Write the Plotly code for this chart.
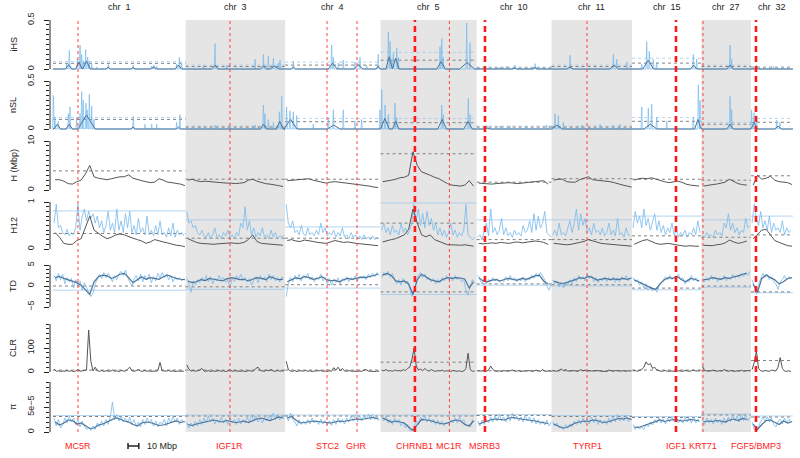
import numpy as np
import plotly.graph_objects as go

# ---------------- data ----------------
chroms = ["1", "3", "4", "5", "10", "11", "15", "27", "32"]
chrom_len = [122.7, 92.0, 88.3, 88.9, 69.3, 74.4, 64.2, 45.9, 38.8]
shaded = ["3", "5", "11", "27"]

genes = ["MC5R", "IGF1R", "STC2", "GHR", "CHRNB1", "MC1R", "MSRB3", "TYRP1", "IGF1", "KRT71", "FGF5/BMP3"]
gene_chrom = ["1", "3", "4", "4", "5", "5", "10", "11", "15", "27", "32"]
gene_pos = [23.1, 41.0, 38.8, 66.5, 31.8, 63.7, 7.7, 32.8, 40.7, 1.5, 4.6]
gene_strong = [False, False, False, False, True, False, True, False, True, False, True]

SCALEBAR_MBP = 10

# iHS: (chrom, pos Mb, value)
ihs_spikes = [
    ("1", 12.7, 0.05), ("1", 15.1, 0.19), ("1", 22.5, 0.10), ("1", 25.0, 0.245), ("1", 26.5, 0.15),
    ("1", 28.0, 0.08), ("1", 30.2, 0.20), ("1", 32.1, 0.12), ("1", 33.6, 0.08), ("1", 35.8, 0.05),
    ("1", 40.4, 0.02), ("1", 51.2, 0.045), ("1", 74.3, 0.04), ("1", 91.3, 0.03), ("1", 93.4, 0.04),
    ("1", 95.9, 0.03), ("1", 114.4, 0.05), ("1", 116.9, 0.12), ("1", 119.0, 0.06),
    ("3", 16.4, 0.04), ("3", 27.2, 0.26), ("3", 38.0, 0.04), ("3", 64.2, 0.10), ("3", 71.9, 0.15),
    ("3", 76.5, 0.13), ("3", 81.2, 0.11), ("3", 85.8, 0.06), ("3", 87.3, 0.09),
    ("4", 7.6, 0.08), ("4", 43.1, 0.245), ("4", 44.6, 0.12), ("4", 49.2, 0.06), ("4", 53.8, 0.09),
    ("4", 64.6, 0.07), ("4", 69.3, 0.12), ("4", 75.4, 0.04), ("4", 86.2, 0.15),
    ("5", 7.2, 0.38), ("5", 8.8, 0.28), ("5", 10.3, 0.10), ("5", 11.8, 0.16), ("5", 15.0, 0.21),
    ("5", 16.5, 0.12), ("5", 55.0, 0.23), ("5", 56.6, 0.31), ("5", 58.0, 0.12), ("5", 79.7, 0.47),
    ("5", 82.8, 0.27),
    ("10", 21.6, 0.02), ("10", 27.8, 0.03), ("10", 35.5, 0.04), ("10", 54.0, 0.055), ("10", 61.7, 0.02),
    ("11", 17.1, 0.14), ("11", 57.2, 0.15), ("11", 60.3, 0.10), ("11", 69.6, 0.07),
    ("15", 9.0, 0.05), ("15", 13.6, 0.28), ("15", 16.0, 0.18), ("15", 19.7, 0.10), ("15", 22.8, 0.07),
    ("15", 56.7, 0.15), ("15", 59.8, 0.10),
    ("27", 26.5, 0.245), ("27", 28.0, 0.10),
    ("32", 5.2, 0.04), ("32", 20.7, 0.03),
]
# smoothed iHS: (chrom, pos, value, half-width Mb)
ihs_smooth = [
    ("1", 14.5, 0.045, 3), ("1", 24.0, 0.07, 3), ("1", 31.0, 0.08, 3.5), ("1", 51.0, 0.02, 2),
    ("1", 74.0, 0.015, 2), ("1", 93.0, 0.02, 3), ("1", 116.0, 0.04, 3),
    ("3", 27.0, 0.04, 3), ("3", 72.0, 0.03, 3), ("3", 82.0, 0.03, 4),
    ("4", 7.6, 0.02, 2), ("4", 44.0, 0.06, 4), ("4", 68.0, 0.04, 4), ("4", 86.0, 0.03, 2),
    ("5", 8.0, 0.125, 3), ("5", 14.0, 0.11, 3), ("5", 56.0, 0.075, 4), ("5", 80.0, 0.065, 7),
    ("10", 35.0, 0.01, 2), ("10", 54.0, 0.015, 2),
    ("11", 17.0, 0.02, 3), ("11", 58.0, 0.04, 4),
    ("15", 15.0, 0.09, 5), ("15", 57.0, 0.04, 3),
    ("27", 26.5, 0.04, 3),
    ("32", 5.0, 0.015, 2),
]
ihs_thr_gray = [0.058, 0.025, 0.04, 0.09, 0.01, 0.025, 0.06, 0.025, 0.01]
ihs_thr_blue = [0.075, 0.04, 0.07, 0.17, 0.02, 0.04, 0.11, 0.04, 0.025]

nsl_spikes = [
    ("1", 0.3, 0.35), ("1", 1.8, 0.12), ("1", 4.9, 0.08), ("1", 14.2, 0.16), ("1", 15.7, 0.23),
    ("1", 21.9, 0.12), ("1", 25.0, 0.16), ("1", 26.5, 0.39), ("1", 28.0, 0.30), ("1", 30.5, 0.27),
    ("1", 31.7, 0.20), ("1", 33.6, 0.36), ("1", 35.8, 0.24), ("1", 37.9, 0.10), ("1", 74.3, 0.13),
    ("1", 85.1, 0.05), ("1", 91.3, 0.05), ("1", 95.9, 0.05), ("1", 114.4, 0.07), ("1", 117.4, 0.15),
    ("3", 13.3, 0.03), ("3", 27.2, 0.04), ("3", 41.0, 0.03), ("3", 64.2, 0.04), ("3", 71.9, 0.25),
    ("3", 73.4, 0.16), ("3", 76.5, 0.10), ("3", 81.2, 0.07), ("3", 86.8, 0.18), ("3", 88.9, 0.34),
    ("4", 1.4, 0.23), ("4", 4.5, 0.19), ("4", 7.6, 0.18), ("4", 10.7, 0.14), ("4", 26.1, 0.05),
    ("4", 40.0, 0.12), ("4", 44.6, 0.20), ("4", 53.8, 0.20), ("4", 64.6, 0.08), ("4", 70.8, 0.10),
    ("4", 87.7, 0.20),
    ("5", 1.1, 0.41), ("5", 4.2, 0.25), ("5", 7.2, 0.15), ("5", 13.4, 0.27), ("5", 15.0, 0.12),
    ("5", 56.6, 0.25), ("5", 58.1, 0.15), ("5", 81.2, 0.32), ("5", 82.8, 0.15),
    ("10", 9.3, 0.04), ("10", 21.6, 0.03), ("10", 30.9, 0.03), ("10", 46.3, 0.03), ("10", 64.8, 0.04),
    ("11", 3.2, 0.16), ("11", 6.3, 0.14), ("11", 10.9, 0.07), ("11", 27.9, 0.04), ("11", 44.9, 0.05),
    ("11", 57.2, 0.04), ("11", 63.4, 0.05),
    ("15", 9.0, 0.23), ("15", 15.1, 0.22), ("15", 18.2, 0.26), ("15", 22.8, 0.12), ("15", 32.1, 0.08),
    ("15", 56.7, 0.12), ("15", 61.4, 0.46), ("15", 63.0, 0.30),
    ("27", 26.5, 0.34), ("27", 28.0, 0.20),
    ("32", 0.6, 0.20), ("32", 2.8, 0.17), ("32", 5.2, 0.14), ("32", 23.8, 0.09), ("32", 26.8, 0.07),
]
nsl_smooth = [
    ("1", 4.0, 0.05, 3), ("1", 15.0, 0.05, 3), ("1", 31.0, 0.145, 8), ("1", 74.0, 0.02, 2), ("1", 116.0, 0.02, 2),
    ("3", 72.0, 0.05, 3), ("3", 87.0, 0.08, 3),
    ("4", 5.0, 0.10, 6), ("4", 45.0, 0.04, 6),
    ("5", 4.0, 0.11, 4), ("5", 14.0, 0.08, 3), ("5", 57.0, 0.10, 4), ("5", 81.0, 0.08, 4),
    ("10", 10.0, 0.01, 3),
    ("11", 5.0, 0.04, 5),
    ("15", 17.0, 0.05, 6), ("15", 61.0, 0.10, 3),
    ("27", 26.5, 0.05, 3),
    ("32", 3.0, 0.07, 3), ("32", 25.0, 0.03, 3),
]
nsl_thr_gray = [0.10, 0.02, 0.076, 0.066, 0.02, 0.02, 0.08, 0.05, 0.07]
nsl_thr_blue = [0.12, 0.03, 0.11, 0.11, 0.03, 0.03, 0.12, 0.07, 0.11]

# H (Mbp), 4 Mb windows
h_mbp = {
    "1": [2.1, 2.1, 1.8, 1.3, 1.2, 1.7, 2.0, 3.3, 5.0, 2.7, 2.4, 2.2, 2.1, 2.3, 2.5, 2.7, 2.7, 3.1, 2.4, 2.1,
          1.9, 1.7, 1.5, 1.6, 2.3, 2.0, 1.6, 1.5, 1.4, 1.2, 0.9],
    "3": [2.0, 2.2, 1.9, 1.7, 1.8, 1.7, 1.6, 1.6, 1.5, 1.4, 1.4, 1.3, 1.4, 1.5, 2.0, 2.2, 1.8, 1.5, 1.3, 1.2,
          1.1, 0.9, 0.7],
    "4": [1.9, 2.0, 2.1, 2.2, 2.3, 2.3, 2.0, 1.8, 1.6, 1.4, 1.6, 1.7, 1.6, 1.5, 1.3, 1.3, 1.2, 1.1, 1.0, 0.8,
          0.6, 0.5],
    "5": [1.7, 1.8, 2.0, 2.2, 2.5, 2.6, 3.0, 7.8, 5.0, 3.7, 3.4, 3.0, 2.6, 2.3, 1.8, 1.3, 1.0, 0.9, 0.8, 1.0,
          1.9, 0.8],
    "10": [1.4, 1.3, 1.3, 1.2, 1.3, 1.4, 1.5, 1.5, 1.4, 1.3, 1.4, 1.5, 1.6, 1.7, 1.8, 1.9, 1.2],
    "11": [2.0, 2.2, 2.2, 1.7, 1.6, 1.6, 2.1, 2.4, 2.7, 2.1, 2.0, 2.0, 1.9, 1.7, 1.5, 1.2, 1.0, 0.8, 0.6],
    "15": [2.0, 2.3, 2.4, 2.3, 2.5, 2.2, 1.9, 1.7, 1.5, 1.6, 1.8, 1.6, 1.2, 1.0, 0.9, 0.8],
    "27": [0.8, 1.0, 1.1, 1.2, 1.4, 1.6, 2.2, 1.8, 1.3, 1.1, 1.0],
    "32": [1.0, 3.0, 2.2, 2.4, 2.8, 2.0, 1.7, 1.6, 1.5, 1.1],
}
h_thr_gray = [3.9, 2.2, 2.2, 7.4, 1.6, 2.3, 2.2, 2.0, 2.9]

# H12, 2 Mb windows (blue) and H2/H1, 4 Mb windows (gray)
h12_blue = {
    "1": [0.55, 0.95, 0.45, 0.50, 0.35, 0.30, 0.42, 0.28, 0.35, 0.30, 0.45, 0.95, 0.40, 0.70, 0.85, 0.60,
          0.80, 0.65, 0.75, 0.55, 0.70, 0.45, 0.60, 0.35, 0.50, 0.80, 0.40, 0.55, 0.35, 0.85, 0.40, 0.60,
          0.35, 0.75, 0.45, 0.80, 0.35, 0.50, 0.30, 0.65, 0.35, 0.45, 0.30, 0.70, 0.30, 0.40, 0.28, 0.50,
          0.30, 0.60, 0.30, 0.35, 0.25, 0.45, 0.28, 0.55, 0.25, 0.40, 0.30, 0.35, 0.28],
    "3": [0.80, 0.55, 0.60, 0.45, 0.50, 0.35, 0.30, 0.40, 0.28, 0.25, 0.35, 0.22, 0.30, 0.45, 0.25, 0.30,
          0.22, 0.35, 0.28, 0.40, 0.25, 0.30, 0.22, 0.35, 0.28, 0.55, 0.45, 0.90, 0.40, 0.60, 0.30, 0.45,
          0.25, 0.35, 0.28, 0.45, 0.25, 0.30, 0.22, 0.40, 0.25, 0.35, 0.22, 0.28, 0.25, 0.30],
    "4": [0.95, 0.55, 0.45, 0.60, 0.35, 0.40, 0.30, 0.50, 0.32, 0.28, 0.45, 0.30, 0.35, 0.28, 0.40, 0.30,
          0.55, 0.35, 0.45, 0.28, 0.35, 0.30, 0.40, 0.25, 0.35, 0.28, 0.45, 0.25, 0.30, 0.22, 0.35, 0.25,
          0.30, 0.22, 0.28, 0.20, 0.30, 0.22, 0.25, 0.20, 0.28, 0.20, 0.25, 0.22],
    "5": [0.40, 0.55, 0.35, 0.45, 0.30, 0.50, 0.35, 0.40, 0.30, 0.55, 0.35, 0.45, 0.30, 0.40, 0.55, 0.95,
          0.60, 0.85, 0.50, 0.75, 0.45, 0.80, 0.50, 0.65, 0.40, 0.55, 0.30, 0.45, 0.28, 0.40, 0.25, 0.35,
          0.55, 0.30, 0.40, 0.25, 0.35, 0.28, 0.40, 0.95, 0.30, 0.25, 0.20, 0.25],
    "10": [0.25, 0.30, 0.20, 0.35, 0.55, 0.28, 0.85, 0.35, 0.45, 0.30, 0.40, 0.65, 0.30, 0.45, 0.28, 0.35,
           0.25, 0.40, 0.30, 0.35, 0.28, 0.50, 0.35, 0.40, 0.60, 0.35, 0.75, 0.40, 0.70, 0.45, 0.55, 0.80,
           0.35, 0.30, 0.25],
    "11": [0.30, 0.40, 0.28, 0.55, 0.30, 0.35, 0.28, 0.45, 0.60, 0.35, 0.55, 0.85, 0.40, 0.75, 0.50, 0.65,
           0.35, 0.45, 0.30, 0.55, 0.35, 0.40, 0.30, 0.45, 0.28, 0.35, 0.55, 0.30, 0.40, 0.28, 0.65, 0.30,
           0.35, 0.25, 0.45, 0.30, 0.28],
    "15": [0.45, 0.80, 0.55, 0.70, 0.45, 0.85, 0.50, 0.65, 0.40, 0.55, 0.75, 0.40, 0.60, 0.35, 0.50, 0.30,
           0.45, 0.35, 0.55, 0.30, 0.40, 0.25, 0.35, 0.28, 0.40, 0.25, 0.35, 0.30, 0.45, 0.30, 0.60, 0.35],
    "27": [0.30, 0.25, 0.35, 0.28, 0.30, 0.25, 0.40, 0.30, 0.35, 0.28, 0.55, 0.45, 0.75, 0.40, 0.55, 0.35,
           0.45, 0.30, 0.40, 0.35, 0.65, 0.45, 0.50],
    "32": [0.55, 0.95, 0.65, 0.50, 0.80, 0.45, 0.60, 0.40, 0.70, 0.35, 0.55, 0.40, 0.45, 0.35, 0.60, 0.30,
           0.45, 0.35, 0.40],
}
h12_gray = {
    "1": [0.35, 0.25, 0.12, 0.10, 0.10, 0.18, 0.22, 0.45, 0.70, 0.40, 0.33, 0.27, 0.22, 0.25, 0.30, 0.32,
          0.30, 0.26, 0.23, 0.20, 0.17, 0.12, 0.15, 0.20, 0.17, 0.15, 0.13, 0.10, 0.08, 0.07, 0.05],
    "3": [0.22, 0.18, 0.14, 0.12, 0.11, 0.10, 0.10, 0.11, 0.12, 0.12, 0.13, 0.12, 0.12, 0.14, 0.20, 0.30,
          0.16, 0.12, 0.11, 0.10, 0.09, 0.09, 0.08],
    "4": [0.18, 0.20, 0.17, 0.16, 0.19, 0.18, 0.16, 0.14, 0.13, 0.12, 0.15, 0.18, 0.16, 0.14, 0.15, 0.13,
          0.12, 0.11, 0.10, 0.09, 0.08, 0.07],
    "5": [0.15, 0.18, 0.20, 0.22, 0.26, 0.30, 0.42, 0.85, 0.55, 0.30, 0.26, 0.30, 0.20, 0.16, 0.12, 0.09,
          0.09, 0.08, 0.08, 0.09, 0.07, 0.06],
    "10": [0.12, 0.11, 0.12, 0.13, 0.12, 0.14, 0.13, 0.12, 0.14, 0.15, 0.13, 0.14, 0.15, 0.17, 0.16, 0.14, 0.10],
    "11": [0.12, 0.11, 0.10, 0.09, 0.10, 0.12, 0.14, 0.16, 0.20, 0.17, 0.14, 0.12, 0.11, 0.10, 0.09, 0.09,
           0.08, 0.07, 0.06],
    "15": [0.10, 0.14, 0.18, 0.20, 0.16, 0.12, 0.10, 0.11, 0.12, 0.10, 0.08, 0.07, 0.06, 0.07, 0.06, 0.06],
    "27": [0.08, 0.07, 0.07, 0.09, 0.10, 0.13, 0.19, 0.15, 0.12, 0.14, 0.17],
    "32": [0.22, 0.30, 0.40, 0.42, 0.30, 0.18, 0.14, 0.10, 0.07, 0.06],
}
h12_thr_blue = [0.81, 0.62, 0.47, 0.98, 0.62, 0.62, 0.70, 0.62, 0.70]
h12_thr_gray = [0.33, 0.23, 0.23, 0.55, 0.20, 0.20, 0.28, 0.25, 0.30]

# Tajima's D: 2 Mb (light) and 4 Mb smoothed (dark)
td_raw = {
    "1": [2.5, 1.2, 3.0, 1.5, 2.8, 0.5, 2.0, 1.0, 1.8, -0.5, 1.5, 0.2, 1.2, -1.0, 0.8, -0.5, -1.5, -2.5,
          -1.8, 0.5, 1.5, 2.8, 1.8, 3.2, 2.0, 3.0, 2.2, 1.0, 2.5, 1.5, 2.8, 3.5, 2.5, 3.8, 2.0, 1.0, 0.0,
          1.5, 2.5, 1.2, 2.8, 1.0, 2.5, 1.5, 2.8, 0.8, 2.2, 1.2, 3.0, 2.0, 3.2, 2.0, 2.8, 1.5, 2.5, 1.0,
          2.2, 1.5, 2.0, 1.2, 1.8],
    "3": [1.8, 0.5, -1.5, 1.2, 0.2, 1.5, 0.8, 2.0, 1.2, 2.5, 1.0, 2.2, 0.5, 1.8, 1.2, 2.5, 1.5, 2.0, 0.8,
          1.5, -0.5, 2.0, 1.0, 2.5, 1.5, 2.8, 1.2, 2.0, 1.0, 1.8, 0.2, 1.5, 2.2, 0.8, 2.5, 1.5, 2.2, 1.0,
          2.8, 1.5, 2.5, 1.2, 2.0, 1.0, 2.2, 1.8],
    "4": [-2.5, 0.5, 2.0, 1.0, 2.5, 1.5, 2.8, 1.2, 2.5, 1.8, 3.0, 1.5, 2.2, 1.0, 2.0, 1.5, 2.8, 1.2, 2.0,
          0.5, 1.8, 0.2, 1.5, 0.8, 2.0, 0.5, 1.8, 1.2, 2.2, 1.0, 2.0, 1.5, 2.5, 1.2, 2.2, 1.8, 2.5, 1.5,
          2.8, 2.0, 3.0, 2.2, 3.2, 2.5],
    "5": [2.0, 3.2, 2.5, 3.5, 2.0, 3.0, 1.5, 0.5, 1.5, 0.2, 1.8, 0.5, 1.2, -0.5, -2.5, -1.5, 1.0, 2.5,
          3.2, 2.0, 2.8, 1.5, 2.0, 1.0, 1.8, 0.5, 1.5, 0.8, 2.0, 1.2, 2.5, 1.5, 2.2, 1.2, 2.5, 1.5, 2.0,
          1.0, 1.5, -1.0, -2.2, 0.0, 1.5, 0.8],
    "10": [2.5, 1.5, 0.5, 1.8, 0.5, 1.5, 1.0, 2.0, 1.2, 1.8, 0.8, 1.5, 1.0, 2.2, 1.2, 2.5, 1.5, 2.0, 1.0,
           1.8, 1.2, 2.2, 1.0, 1.8, 1.5, 2.5, 1.8, 3.0, 2.2, 3.2, 2.5, 1.5, 0.0, -1.0, 0.5],
    "11": [1.5, 0.5, 1.2, -0.2, 0.8, -0.5, 1.0, 0.2, 1.5, 0.5, 2.0, 1.0, 2.5, 1.5, 2.2, 1.2, 2.8, 1.8, 2.5,
           1.0, 2.0, 0.8, 1.8, 1.2, 2.2, 1.0, 2.0, 1.2, 2.2, 0.8, 2.0, 1.0, 2.2, 1.5, 2.5, 1.2, 2.0],
    "15": [2.0, 1.0, 1.5, 0.2, 1.0, -0.5, 0.5, -1.0, 0.0, -1.2, -0.5, -1.5, 0.0, 0.8, 1.5, 2.2, 1.5, 2.5,
           1.5, 2.2, 1.8, 2.8, 1.5, 2.0, 0.5, 1.5, 1.0, 2.5, 1.2, 2.0, 1.0, 1.5],
    "27": [1.8, 1.0, 2.0, 1.2, 2.5, 1.5, 2.2, 1.0, 2.0, 1.5, 2.5, 1.2, 2.0, 1.5, 2.8, 1.8, 2.5, 2.0, 3.0,
           2.2, 3.2, 2.5, 3.5],
    "32": [1.5, -0.5, -2.0, 0.5, 2.0, 3.0, 2.0, 2.8, 1.5, 2.2, 1.0, 0.5, -0.8, 1.0, 1.5, 2.5, 1.5, 2.2, 1.8],
}
td_smooth = {
    "1": [2.0, 2.3, 1.8, 1.5, 1.2, 0.8, 0.2, -1.0, -2.0, 1.0, 2.2, 2.6, 2.4, 1.8, 2.2, 2.8, 3.0, 2.0, 0.8,
          1.5, 2.2, 1.6, 2.0, 1.8, 1.6, 2.2, 2.6, 2.2, 1.8, 1.6, 1.5],
    "3": [1.2, 0.8, 1.0, 1.5, 1.3, 1.8, 1.6, 1.4, 1.2, 1.7, 2.0, 1.8, 1.5, 1.6, 1.2, 1.6, 2.0, 1.8, 1.5,
          2.2, 1.8, 1.5, 1.6],
    "4": [1.0, 1.5, 2.0, 1.7, 2.3, 2.0, 1.6, 1.8, 2.2, 1.6, 1.2, 1.4, 1.0, 1.5, 1.8, 1.6, 1.9, 2.1, 2.0,
          2.2, 2.5, 2.8],
    "5": [2.6, 3.0, 2.5, 1.2, 1.0, 1.2, 0.5, -2.0, 1.5, 2.8, 2.2, 1.5, 1.2, 1.0, 1.6, 2.0, 1.8, 2.0, 1.9,
          1.6, -0.5, 1.0],
    "10": [2.0, 1.2, 1.0, 1.4, 1.5, 1.2, 1.6, 1.8, 1.5, 1.4, 1.8, 1.6, 2.0, 2.4, 2.6, 1.2, 0.5],
    "11": [1.2, 0.8, 0.6, 0.8, 1.2, 1.5, 2.0, 1.8, 2.3, 2.0, 1.4, 1.6, 1.8, 1.5, 1.7, 1.5, 1.8, 1.6, 1.9],
    "15": [1.5, 1.0, 0.5, 0.0, -0.5, -0.8, 0.5, 1.5, 2.0, 1.8, 2.2, 1.5, 1.0, 1.8, 1.6, 1.2],
    "27": [1.5, 1.6, 2.0, 1.8, 1.6, 2.0, 1.8, 2.2, 2.4, 2.8, 3.0],
    "32": [0.5, -1.5, 1.8, 2.6, 2.0, 1.5, 0.5, 1.0, 1.8, 2.0],
}
td_thr_gray = [0.0, -0.2, 0.3, -1.4, 0.5, 0.3, -0.5, 0.0, -1.4]
td_thr_blue = [-1.0, -0.8, -0.5, -2.0, 0.2, 0.0, -0.9, -0.3, -1.6]

# CLR, 2 Mb
clr = {
    "1": [12, 3, 5, 2, 4, 3, 6, 3, 5, 2, 4, 10, 3, 5, 4, 8, 175, 45, 4, 20, 5, 3, 6, 2, 5, 4, 3, 8, 3, 5,
          2, 6, 4, 3, 12, 20, 5, 3, 6, 10, 4, 3, 6, 3, 5, 2, 4, 3, 6, 40, 5, 3, 4, 6, 3, 5, 2, 4, 3, 5, 3],
    "3": [30, 12, 4, 6, 3, 5, 8, 15, 4, 3, 6, 2, 5, 3, 4, 6, 3, 5, 2, 4, 10, 3, 5, 4, 6, 3, 5, 2, 4, 6,
          3, 5, 15, 20, 6, 4, 3, 8, 5, 10, 4, 3, 6, 4, 3, 5],
    "4": [45, 10, 4, 3, 6, 2, 5, 3, 4, 6, 3, 5, 2, 4, 3, 5, 6, 3, 4, 2, 5, 3, 18, 8, 20, 5, 15, 4, 3, 6,
          4, 3, 5, 2, 4, 3, 8, 10, 4, 3, 5, 2, 4, 3],
    "5": [8, 5, 10, 4, 6, 3, 8, 5, 6, 4, 10, 6, 15, 20, 50, 100, 25, 8, 12, 5, 15, 6, 4, 10, 5, 3, 6, 4,
          8, 3, 5, 4, 3, 6, 4, 3, 5, 2, 4, 15, 78, 10, 3, 4],
    "10": [5, 3, 4, 6, 3, 8, 25, 10, 4, 3, 5, 2, 6, 4, 3, 5, 8, 4, 3, 6, 2, 4, 3, 5, 6, 3, 4, 8, 5, 3,
           10, 4, 3, 5, 2],
    "11": [6, 4, 3, 8, 12, 6, 10, 4, 3, 5, 6, 3, 4, 10, 5, 8, 3, 6, 4, 5, 3, 6, 4, 3, 5, 2, 8, 4, 3, 6,
           5, 3, 4, 6, 3, 5, 4],
    "15": [4, 6, 3, 8, 10, 20, 42, 30, 35, 15, 20, 8, 5, 3, 4, 6, 3, 5, 4, 3, 2, 5, 4, 3, 6, 4, 3, 5, 8,
           4, 3, 5],
    "27": [25, 6, 4, 3, 5, 8, 4, 3, 6, 4, 10, 5, 3, 6, 4, 3, 5, 4, 8, 3, 5, 4, 6],
    "32": [10, 40, 88, 15, 5, 3, 6, 4, 3, 8, 5, 4, 20, 60, 15, 4, 3, 5, 2],
}
clr_thr_gray = [8, 8, 8, 41, 5, 5, 8, 5, 48]

# nucleotide diversity pi, in units of 1e-5
PI_UNIT = 1e-5
pi_raw = {
    "1": [2.8, 1.2, 2.5, 0.8, 1.5, 2.8, 1.8, 3.2, 2.0, 2.8, 1.5, 2.5, 1.0, 2.2, 1.2, 0.5, 1.0, 0.3, 1.2,
          0.5, 1.8, 1.0, 2.2, 1.2, 2.5, 1.5, 3.0, 6.0, 2.5, 3.5, 2.2, 3.2, 2.0, 2.8, 1.8, 3.0, 1.5, 2.5,
          1.2, 2.0, 1.0, 2.5, 1.5, 2.8, 1.8, 2.5, 1.2, 2.2, 1.0, 2.0, 1.5, 2.5, 1.2, 2.8, 1.8, 3.2, 2.0,
          2.8, 1.5, 2.5, 2.0],
    "3": [2.0, 0.8, 1.8, 1.0, 2.2, 1.2, 2.5, 1.5, 2.8, 1.8, 3.2, 2.0, 2.8, 1.6, 2.5, 1.8, 3.0, 1.8, 2.6,
          1.5, 2.8, 1.8, 2.5, 1.5, 2.8, 1.6, 2.5, 1.8, 3.0, 2.0, 3.5, 2.2, 3.2, 2.0, 2.8, 1.8, 3.0, 2.2,
          3.4, 2.4, 3.8, 2.5, 3.5, 2.4, 3.2, 2.6],
    "4": [3.5, 2.2, 3.8, 2.5, 2.0, 1.2, 2.5, 1.5, 2.2, 1.5, 2.5, 1.6, 2.8, 1.8, 2.4, 1.5, 2.6, 1.6, 2.3,
          1.4, 2.2, 1.3, 2.5, 1.5, 2.8, 1.8, 2.5, 1.6, 2.8, 2.0, 3.2, 2.2, 3.5, 2.0, 3.2, 2.2, 3.4, 2.5,
          3.6, 2.4, 3.5, 2.5, 3.2, 2.2],
    "5": [3.0, 2.2, 3.2, 1.8, 2.5, 1.5, 2.8, 1.8, 2.5, 1.2, 2.0, 0.8, 1.5, 0.3, 0.2, 1.0, 2.2, 1.5, 3.0,
          2.2, 3.2, 2.0, 2.8, 1.8, 2.6, 1.5, 2.4, 1.4, 2.2, 1.2, 2.0, 1.5, 2.4, 1.8, 2.8, 1.8, 3.0, 2.0,
          2.5, 1.2, 1.5, 1.0, 2.5, 2.0],
    "10": [2.2, 1.2, 2.4, 1.5, 2.5, 1.8, 3.0, 2.0, 3.2, 2.2, 3.5, 2.2, 3.0, 2.0, 3.4, 2.2, 3.8, 2.5, 3.2,
           2.2, 3.0, 2.0, 3.4, 2.2, 3.0, 1.8, 2.8, 1.6, 2.5, 1.5, 2.2, 1.4, 2.4, 1.2, 2.0],
    "11": [2.0, 1.2, 1.8, 0.8, 1.2, 0.5, 1.5, 0.8, 1.6, 1.0, 2.2, 1.5, 2.5, 1.6, 2.8, 1.8, 2.6, 1.6, 3.0,
           1.8, 2.8, 1.5, 2.5, 1.6, 2.4, 1.5, 2.8, 1.8, 3.2, 2.0, 3.5, 2.2, 3.0, 2.2, 3.4, 2.0, 2.8],
    "15": [1.5, 0.5, 1.2, 0.6, 1.0, 0.5, 1.6, 1.0, 2.0, 1.4, 2.5, 1.8, 2.8, 1.8, 2.6, 1.6, 2.8, 2.0, 3.0,
           2.0, 2.8, 1.8, 2.6, 1.8, 3.0, 2.0, 2.8, 1.8, 3.0, 1.8, 2.6, 2.0],
    "27": [2.5, 1.5, 2.8, 1.8, 2.6, 1.6, 2.8, 1.8, 2.5, 1.5, 2.8, 1.8, 3.0, 2.0, 3.5, 2.2, 3.2, 2.0, 3.6,
           2.2, 3.4, 2.2, 3.0],
    "32": [2.0, 0.5, 0.2, 1.2, 2.0, 3.0, 2.2, 3.0, 2.0, 2.8, 1.5, 1.0, 2.0, 2.6, 1.6, 2.8, 1.8, 2.6, 2.0],
}
pi_smooth = {
    "1": [2.0, 1.4, 1.8, 2.4, 2.3, 1.6, 1.8, 1.2, 0.7, 0.8, 1.4, 1.6, 2.0, 2.4, 2.8, 2.6, 2.2, 2.0, 1.5,
          1.2, 1.8, 2.0, 1.9, 1.6, 1.3, 1.4, 1.7, 2.0, 2.2, 1.9, 2.1],
    "3": [1.5, 1.3, 1.6, 1.8, 2.0, 2.2, 2.4, 2.2, 2.0, 2.3, 2.1, 1.9, 2.0, 2.2, 1.9, 2.3, 2.6, 2.8, 2.5,
          2.3, 2.6, 3.0, 2.8],
    "4": [2.8, 3.1, 2.4, 1.8, 1.9, 2.0, 2.2, 2.1, 2.0, 1.9, 1.8, 2.0, 2.2, 2.1, 2.3, 2.4, 2.6, 2.5, 2.7,
          2.8, 2.9, 2.6],
    "5": [2.8, 2.4, 2.0, 2.2, 2.0, 1.8, 1.0, 0.3, 1.5, 2.5, 2.4, 2.3, 2.0, 1.8, 1.6, 1.8, 2.2, 2.4, 2.2,
          1.5, 1.2, 2.2],
    "10": [1.6, 1.9, 2.2, 2.5, 2.6, 2.5, 2.4, 2.8, 2.9, 2.7, 2.6, 2.5, 2.4, 2.2, 2.0, 1.8, 1.7],
    "11": [1.6, 1.2, 0.8, 0.9, 1.3, 1.8, 2.0, 2.2, 2.1, 2.4, 2.3, 2.0, 1.9, 2.2, 2.5, 2.7, 2.6, 2.8, 2.5],
    "15": [1.0, 0.9, 1.2, 1.5, 1.9, 2.2, 2.4, 2.1, 2.3, 2.5, 2.4, 2.2, 2.3, 2.5, 2.4, 2.2],
    "27": [2.0, 2.2, 2.1, 2.3, 2.2, 2.0, 2.4, 2.6, 2.3, 2.7, 2.5],
    "32": [1.6, 0.5, 1.5, 2.3, 2.4, 2.0, 1.5, 2.2, 1.8, 2.1],
}
pi_thr_gray = [3.1, 3.2, 3.2, 3.2, 3.3, 3.1, 2.9, 3.4, 3.0]
pi_thr_blue = [3.3, 3.4, 3.4, 3.4, 3.5, 3.3, 3.1, 3.6, 3.2]

# ---------------- helpers ----------------
offsets = np.concatenate([[0.0], np.cumsum(chrom_len)[:-1]])
off = dict(zip(chroms, offsets))
clen = dict(zip(chroms, chrom_len))


def grid_xy(series, step, scale=1.0):
    xs, ys = [], []
    for c in chroms:
        vals = series[c]
        n = len(vals)
        pos = step / 2 + step * np.arange(n)
        if pos[-1] > clen[c]:
            pos = np.linspace(step / 2, clen[c] - 0.3, n)
        xs += list(off[c] + pos) + [None]
        ys += [v * scale for v in vals] + [None]
    return xs, ys


def spike_xy(items, hw_default):
    xs, ys = [], []
    for c in chroms:
        pts = sorted([s for s in items if s[0] == c], key=lambda s: s[1])
        xs.append(off[c]); ys.append(0)
        for s in pts:
            hw = s[3] if len(s) > 3 else hw_default
            xs += [off[c] + s[1] - hw, off[c] + s[1], off[c] + s[1] + hw]
            ys += [0, s[2], 0]
        xs.append(off[c] + clen[c]); ys.append(0)
        xs.append(None); ys.append(None)
    return xs, ys


def seg_xy(vals, scale=1.0):
    xs, ys = [], []
    for c, v in zip(chroms, vals):
        xs += [off[c], off[c] + clen[c], None]
        ys += [v * scale, v * scale, None]
    return xs, ys


LIGHT = "rgba(120,185,235,0.8)"
DARK = "#4d7498"
GRAY = "#555555"
THR_GRAY = "#808080"
THR_BLUE = "rgba(150,195,235,0.7)"

fig = go.Figure()


def add(xy, yax, color, width=1, dash="solid"):
    fig.add_trace(go.Scatter(x=xy[0], y=xy[1], mode="lines", xaxis="x", yaxis=yax,
                             line=dict(color=color, width=width, dash=dash),
                             hoverinfo="skip", showlegend=False, connectgaps=False))


# iHS
add(seg_xy(ihs_thr_blue), "y", THR_BLUE, 1, "dot")
add(seg_xy(ihs_thr_gray), "y", THR_GRAY, 1, "dot")
add(spike_xy(ihs_spikes, 0.6), "y", LIGHT, 0.9)
add(spike_xy(ihs_smooth, 3), "y", DARK, 1)
# nSL
add(seg_xy(nsl_thr_blue), "y2", THR_BLUE, 1, "dot")
add(seg_xy(nsl_thr_gray), "y2", THR_GRAY, 1, "dot")
add(spike_xy(nsl_spikes, 0.6), "y2", LIGHT, 0.9)
add(spike_xy(nsl_smooth, 3), "y2", DARK, 1)
# H
add(seg_xy(h_thr_gray), "y3", THR_GRAY, 1, "dot")
add(grid_xy(h_mbp, 4), "y3", GRAY, 1)
# H12
add(seg_xy(h12_thr_blue), "y4", THR_BLUE, 1)
add(seg_xy(h12_thr_gray), "y4", THR_GRAY, 1, "dot")
add(grid_xy(h12_blue, 2), "y4", LIGHT, 1)
add(grid_xy(h12_gray, 4), "y4", GRAY, 1)
# TD
add(seg_xy(td_thr_blue), "y5", THR_BLUE, 1)
add(seg_xy(td_thr_gray), "y5", THR_GRAY, 1, "dot")
add(grid_xy(td_raw, 2), "y5", LIGHT, 1)
add(grid_xy(td_smooth, 4), "y5", DARK, 1.2)
# CLR
add(seg_xy(clr_thr_gray), "y6", THR_GRAY, 1, "dot")
add(grid_xy(clr, 2), "y6", GRAY, 1)
# pi
add(seg_xy(pi_thr_blue, PI_UNIT), "y7", THR_BLUE, 1)
add(seg_xy(pi_thr_gray, PI_UNIT), "y7", THR_GRAY, 1, "dot")
add(grid_xy(pi_raw, 2, PI_UNIT), "y7", LIGHT, 1)
add(grid_xy(pi_smooth, 4, PI_UNIT), "y7", DARK, 1.2)

# ---------------- layout ----------------
W, Hgt = 800, 458
PLOT_L, PLOT_R, PLOT_T, PLOT_B = 50, 796, 20, 432   # window pixels
ML = PLOT_L
MT = PLOT_T
MR = W - PLOT_R
MB = Hgt - PLOT_B
PW = PLOT_R - PLOT_L
PH = PLOT_B - PLOT_T
PX_PER_MB = 1.081
x0 = -3.0 / PX_PER_MB
x1 = x0 + PW / PX_PER_MB


def py2paper(py):
    return (PLOT_B - py) / PH


panels = [
    ("iHS", "yaxis", (20, 75), (0.5, 20), (0, 69), [0, 0.5], ["0", "0.5"], 0.05, (0, 0.5)),
    ("nSL", "yaxis2", (75, 135), (0.5, 81), (0, 129), [0, 0.5], ["0", "0.5"], 0.05, (0, 0.5)),
    ("H (Mbp)", "yaxis3", (135, 196), (10, 141), (0, 190), [0, 10], ["0", "10"], 1, (0, 10)),
    ("H12", "yaxis4", (196, 256), (1, 202), (0, 249), [0, 1], ["0", "1"], 0.1, (0, 1)),
    ("TD", "yaxis5", (256, 316), (5, 265), (-5, 307), [-5, 0, 5], ["\u22125", "0", "5"], 1, (-5, 5)),
    ("CLR", "yaxis6", (316, 377), (100, 348), (0, 372), [0, 100, 200], ["0", "100", ""], 20, (0, 200)),
    ("\u03c0", "yaxis7", (377, 432), (5e-5, 407), (0, 432), [0, 5e-5, 1e-4], ["0", "5e\u22125", ""], 1e-5, (0, 1e-4)),
]

FONT = "Liberation Sans, Arial, Helvetica, sans-serif"
layout = dict(
    width=W, height=Hgt, margin=dict(l=ML, r=MR, t=MT, b=MB, autoexpand=False),
    paper_bgcolor="white", plot_bgcolor="rgba(0,0,0,0)",
    font=dict(family=FONT, size=9, color="#222"),
    xaxis=dict(domain=[0, 1], range=[x0, x1], visible=False, anchor="y7", automargin=False),
    hovermode=False,
)
shapes = []
annotations = []

for name, key, (ptop, pbot), (va, pa), (vb, pb), major, labels, mstep, (ea, eb) in panels:
    k = (pb - pa) / (va - vb)  # px per unit
    top_v = va + (pa - ptop) / k
    bot_v = vb - (pbot - pb) / k
    nminor = int(round((eb - ea) / mstep))
    minor_vals = [ea + i * mstep for i in range(nminor + 1)]
    layout[key] = dict(
        domain=[py2paper(pbot), py2paper(ptop)], range=[bot_v, top_v], anchor="x",
        automargin=False,
        showgrid=False, zeroline=False, showline=False,
        tickmode="array", tickvals=major, ticktext=labels, tickangle=-90,
        ticks="outside", ticklen=5, tickwidth=1, tickcolor="#222",
        tickfont=dict(size=9, color="#222", family=FONT), ticklabelstandoff=6,
        minor=dict(tickmode="array", tickvals=minor_vals, ticks="outside", ticklen=3,
                   tickwidth=1, tickcolor="#222"),
    )
    yref = "y" if key == "yaxis" else "y" + key[5:]
    shapes.append(dict(type="line", xref="paper", yref=yref, x0=0, x1=0, y0=ea, y1=eb,
                       line=dict(color="#222", width=1)))
    ymid = (ea + eb) / 2
    annotations.append(dict(xref="paper", yref=yref, x=(13 - PLOT_L) / PW, y=ymid, text=name,
                            showarrow=False, textangle=-90, font=dict(size=9, color="#222"),
                            xanchor="center", yanchor="middle"))

for c in shaded:
    shapes.append(dict(type="rect", xref="x", yref="paper", x0=off[c], x1=off[c] + clen[c], y0=0, y1=1,
                       fillcolor="#e5e5e5", line=dict(width=0), layer="below"))

for c in chroms:
    annotations.append(dict(xref="x", yref="paper", x=off[c] + clen[c] / 2, y=py2paper(7),
                            text="chr  " + c, showarrow=False, font=dict(size=9, color="#222"),
                            xanchor="center", yanchor="middle"))

for g, c, p, strong in zip(genes, gene_chrom, gene_pos, gene_strong):
    gx = off[c] + p
    if strong:
        ln = dict(color="#ff1a1a", width=2.6, dash="6px,4px")
    else:
        ln = dict(color="#ff4040", width=1, dash="dot")
    shapes.append(dict(type="line", xref="x", yref="paper", x0=gx, x1=gx, y0=0, y1=1, line=ln))
    annotations.append(dict(xref="x", yref="paper", x=gx, y=py2paper(446), text=g, showarrow=False,
                            font=dict(size=9, color="#ff2020"), xanchor="center", yanchor="middle"))

sb0 = (128 - 53) / PX_PER_MB
ysb = py2paper(446)
cap = 3 / PH
shapes.append(dict(type="line", xref="x", yref="paper", x0=sb0, x1=sb0 + SCALEBAR_MBP, y0=ysb, y1=ysb,
                   line=dict(color="#222", width=1.5)))
for xe in (sb0, sb0 + SCALEBAR_MBP):
    shapes.append(dict(type="line", xref="x", yref="paper", x0=xe, x1=xe, y0=ysb - cap, y1=ysb + cap,
                       line=dict(color="#222", width=1.5)))
annotations.append(dict(xref="x", yref="paper", x=sb0 + SCALEBAR_MBP + 6 / PX_PER_MB, y=ysb,
                        text=f"{SCALEBAR_MBP} Mbp", showarrow=False, font=dict(size=9, color="#222"),
                        xanchor="left", yanchor="middle"))

layout["shapes"] = shapes
layout["annotations"] = annotations
fig.update_layout(**layout)
# remove the default 8 px page margin so the 800x458 figure fills the window exactly
fig.write_html("out.html", config={"displayModeBar": False, "staticPlot": True},
               post_script="document.body.style.margin='0';document.body.style.overflow='hidden';")
